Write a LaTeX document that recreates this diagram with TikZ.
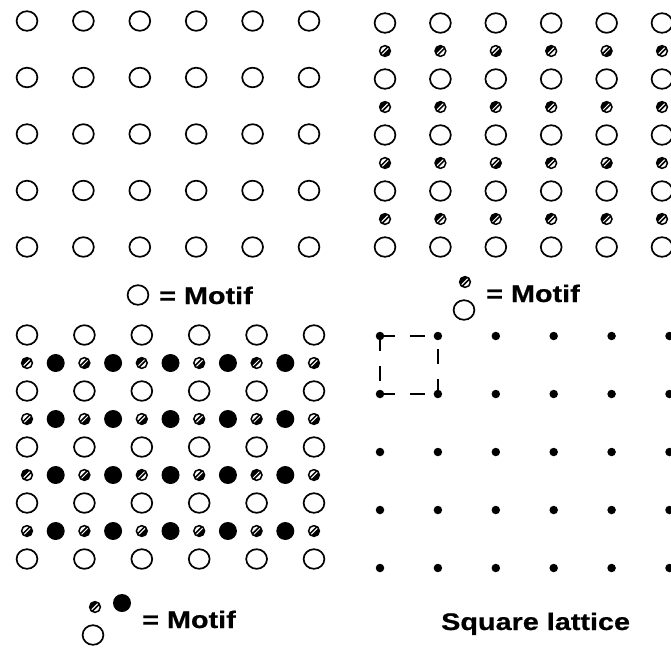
\documentclass[tikz,border=0pt]{standalone}
\usepackage{fontspec}
\newfontfamily\labfont[FakeStretch=1.2,FakeBold=0.6]{Liberation Sans}
\tikzset{
  bigc/.style={draw=black, line width=1.7pt},
  blackdot/.style={fill=black},
  latdot/.style={circle, fill=black, inner sep=0pt, minimum size=8.5pt},
  lab/.style={font=\labfont\bfseries\fontsize{24}{28}\selectfont, inner sep=0pt, anchor=base west},
  cellline/.style={line width=2.6pt, dash pattern=on 15pt off 15pt}
}
\newcommand{\hatdot}[3]{%
  \begin{scope}[shift={(#1,#2)}]
    \begin{scope}
      \clip (0,0) circle (5.4);
      \ifnum#3=0
        \fill[black] (-10.5,8) -- (8,-10.5) -- (12,12) -- cycle;
        \draw[white, line width=1pt] (-8,8.6) -- (8.6,-8);
      \else
        \fill[black] (-8,10.5) -- (10.5,-8) -- (-12,-12) -- cycle;
        \draw[white, line width=1pt] (-8.6,8) -- (8,-8.6);
      \fi
    \end{scope}
    \draw[line width=1.5pt] (0,0) circle (5.4);
  \end{scope}}
\begin{document}
\begin{tikzpicture}[x=1pt,y=-1pt]
\useasboundingbox[fill=white] (0,0) rectangle (671,648);

% ---------- top-left panel ----------
\foreach \i in {0,...,5}{
  \foreach \j in {0,...,4}{
    \draw[bigc] ({27+56.4*\i},{21+56.5*\j}) ellipse (10.4 and 9.8);
  }
}
\draw[bigc] (138,295) ellipse (10.4 and 9.8);
\node[lab] (m1) at (159,304) {= Motif};

% ---------- top-right panel ----------
\foreach \i in {0,...,5}{
  \foreach \j in {0,...,4}{
    \draw[bigc] ({385+55.4*\i},{23+56*\j}) ellipse (10.4 and 9.8);
  }
  \foreach \j in {0,...,3}{
    \pgfmathsetmacro\xx{385+55.4*\i}
    \pgfmathsetmacro\yy{51+56*\j}
    \pgfmathtruncatemacro\vv{mod(\i*5+\j*3+\i*\j,2)}
    \hatdot{\xx}{\yy}{\vv}
  }
}
\hatdot{465}{282}{1}
\draw[bigc] (464,310) ellipse (10.4 and 9.8);
\node[lab] (m2) at (486,302) {= Motif};

% ---------- bottom-left panel ----------
\foreach \i in {0,...,5}{
  \foreach \j in {0,...,4}{
    \draw[bigc] ({27+57.4*\i},{335+56*\j}) ellipse (10.4 and 9.8);
  }
  \foreach \j in {0,...,3}{
    \pgfmathsetmacro\xx{27+57.4*\i}
    \pgfmathsetmacro\yy{363+56*\j}
    \pgfmathtruncatemacro\vv{mod(\i*3+\j*5+\i*\j+1,2)}
    \hatdot{\xx}{\yy}{\vv}
  }
}
\foreach \i in {0,...,4}{
  \foreach \j in {0,...,3}{
    \fill[blackdot] ({55.7+57.4*\i},{363+56*\j}) circle (9);
  }
}
\hatdot{95}{607}{1}
\fill[blackdot] (122,603) circle (9);
\draw[bigc] (93,635) ellipse (10.4 and 9.8);
\node[lab] (m3) at (142,628) {= Motif};

% ---------- bottom-right panel ----------
\foreach \i in {0,...,5}{
  \foreach \j in {0,...,4}{
    \node[latdot] (d-\i-\j) at ({380+57.9*\i},{336+58*\j}) {};
  }
}
\draw[cellline] (d-0-0.center) -- (d-1-0.center);
\draw[cellline] (d-0-0.center) -- (d-0-1.center);
\draw[cellline] (d-0-1.center) -- (d-1-1.center);
\draw[cellline] (d-1-1.center) -- (d-1-0.center);
\node[lab] (sq) at (441,630) {Square lattice};
\end{tikzpicture}
\end{document}
